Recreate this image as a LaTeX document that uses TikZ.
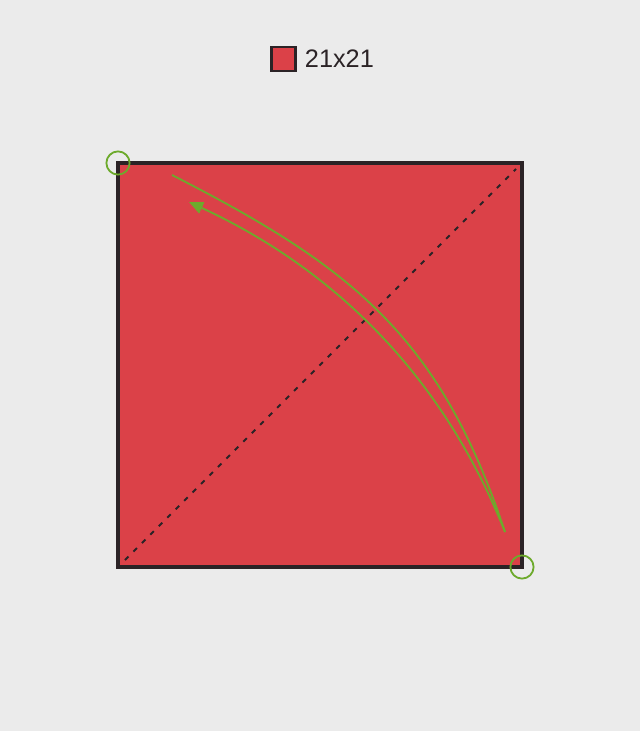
\documentclass[tikz,border=0pt]{standalone}
\usepackage{fontspec}
\setmainfont{Liberation Sans}
\usetikzlibrary{positioning,arrows.meta}

\definecolor{paper}{HTML}{EBEBEB}
\definecolor{sheetred}{HTML}{DB4148}
\definecolor{edgedark}{HTML}{2B2326}
\definecolor{foldgreen}{HTML}{6DAA2C}

\tikzset{
	sheet/.style={fill=sheetred, draw=edgedark, line width=2.2pt},
	valley/.style={edgedark, line width=1.4pt, dash pattern=on 3.5pt off 5pt},
	pin/.style={draw=foldgreen, line width=1.3pt, circle, minimum size=0.58cm, inner sep=0pt},
	move/.style={foldgreen, line width=1.3pt},
}

\begin{document}
\begin{tikzpicture}[x=0.025cm, y=-0.025cm]

		% Background
		\fill[paper] (0,0) rectangle (640,731);
		\useasboundingbox (0,0) rectangle (640,731);

		% Legend
		\node[sheet, line width=1.8pt, minimum size=0.6cm, inner sep=0pt] (key) at (283.5,59) {};
		\node[right=0.08cm of key, text=edgedark, font=\fontsize{18pt}{21pt}\selectfont] (size) {21x21};

		% Paper square
		\coordinate (tl) at (118,163);
		\coordinate (tr) at (522,163);
		\coordinate (br) at (522,567);
		\coordinate (bl) at (118,567);
		\draw[sheet] (tl) -- (tr) -- (br) -- (bl) -- cycle;

		% Diagonal fold line
		\coordinate (d1) at (125,560);
		\coordinate (d2) at (516,169);
		\draw[valley] (d1) -- (d2);

		% Corner marks
		\node[pin] (c1) at (tl) {};
		\node[pin] (c2) at (br) {};

		% Fold arrow
		\coordinate (a0) at (172,175);
		\coordinate (a1) at (505,532);
		\coordinate (a2) at (189,202);
		\draw[move] (a0) .. controls (350,266) and (440,335) .. (a1);
		\draw[move, -{Triangle[length=10pt, width=8.5pt]}] (a1) .. controls (444,379) and (338,271) .. (a2);

	\end{tikzpicture}
\end{document}
